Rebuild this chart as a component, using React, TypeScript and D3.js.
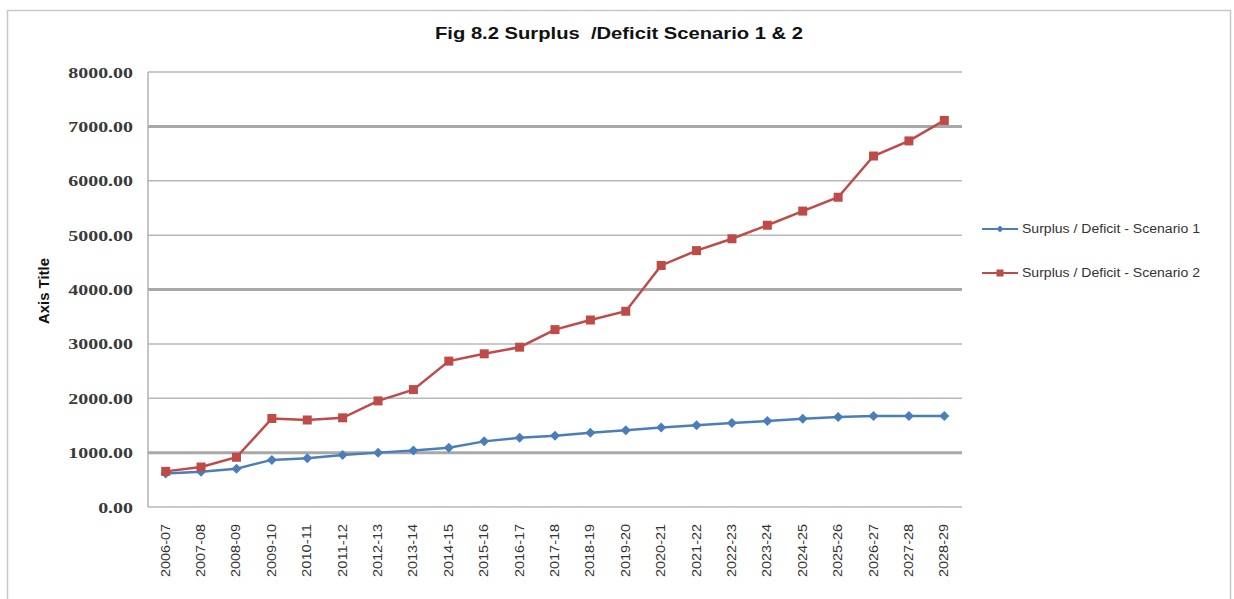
import React from "react";
import * as d3 from "d3";

const categories = [
  "2006-07", "2007-08", "2008-09", "2009-10", "2010-11", "2011-12", "2012-13",
  "2013-14", "2014-15", "2015-16", "2016-17", "2017-18", "2018-19", "2019-20",
  "2020-21", "2021-22", "2022-23", "2023-24", "2024-25", "2025-26", "2026-27",
  "2027-28", "2028-29",
];
const scenario1 = [
  615, 648, 705, 866, 896, 957, 1000, 1037, 1091, 1207, 1274, 1311, 1366, 1412,
  1461, 1503, 1545, 1582, 1624, 1655, 1673, 1673, 1673,
];
const scenario2 = [
  655, 735, 915, 1628, 1600, 1640, 1951, 2159, 2683, 2817, 2939, 3262, 3439, 3600,
  4442, 4715, 4933, 5182, 5442, 5697, 6455, 6733, 7109,
];
const yTicks = [0, 1000, 2000, 3000, 4000, 5000, 6000, 7000, 8000];
const seriesNames = ["Surplus / Deficit - Scenario 1", "Surplus / Deficit - Scenario 2"];
const title = "Fig 8.2 Surplus  /Deficit Scenario 1 & 2";
const yAxisTitle = "Axis Title";

const W = 1234;
const H = 599;
const plot = { left: 148, right: 962, top: 72, bottom: 507 };
const BLUE = "#4A7EBB";
const RED = "#BE4B48";

export default function App() {
  const x = d3
    .scalePoint<string>()
    .domain(categories)
    .range([plot.left, plot.right])
    .padding(0.5);
  const y = d3.scaleLinear().domain([0, 8000]).range([plot.bottom, plot.top]);
  const line = d3
    .line<number>()
    .x((_, i) => x(categories[i]) as number)
    .y((d) => y(d));

  const diamond = (cx: number, cy: number, r: number) =>
    `M${cx},${cy - r}L${cx + r},${cy}L${cx},${cy + r}L${cx - r},${cy}Z`;

  const font = "'Liberation Sans', Arial, sans-serif";

  return (
    <svg
      width={W}
      height={H}
      style={{ position: "absolute", left: 0, top: 0, background: "#fff" }}
      fontFamily={font}
    >
      <rect x={0} y={0} width={W} height={H} fill="#fff" />
      {/* outer border */}
      <path d={`M7.5,${H}V10.5H1230.5V${H}`} fill="none" stroke="#c8c8c8" strokeWidth={1.5} />

      <text
        x={619}
        y={39}
        textAnchor="middle"
        fontSize={17}
        fontWeight="bold"
        fill="#111"
        textLength={368}
        lengthAdjust="spacingAndGlyphs"
        style={{ whiteSpace: "pre" }}
      >
        {title}
      </text>

      {/* gridlines */}
      {yTicks.map((t) => {
        const heavy = t > 0 && (t / 1000) % 3 === 1;
        return (
          <line
            key={t}
            x1={plot.left}
            x2={plot.right}
            y1={y(t)}
            y2={y(t)}
            stroke={heavy ? "#a8a8a8" : "#b8b8b8"}
            strokeWidth={heavy ? 3 : 1.5}
          />
        );
      })}
      {/* axis line */}
      <line x1={plot.left} x2={plot.left} y1={plot.top} y2={plot.bottom} stroke="#b0b0b0" strokeWidth={1.5} />

      {/* y tick labels */}
      {yTicks.map((t) => (
        <text
          key={t}
          transform={`translate(133,${y(t) + 5.5}) scale(1.33,1)`}
          textAnchor="end"
          fontSize={15}
          fontWeight="bold"
          fill="#3a3a3a"
          fontFamily="'Liberation Serif', 'Times New Roman', serif"
        >
          {t.toFixed(2)}
        </text>
      ))}

      <text
        transform={`translate(49,291) rotate(-90)`}
        textAnchor="middle"
        fontSize={14}
        fontWeight="bold"
        fill="#111"
        textLength={66}
        lengthAdjust="spacingAndGlyphs"
      >
        {yAxisTitle}
      </text>

      {/* x labels */}
      {categories.map((c) => (
        <text
          key={c}
          transform={`translate(${(x(c) as number) + 4},524) rotate(-90)`}
          textAnchor="end"
          fontSize={12}
          fill="#333"
          textLength={53}
          lengthAdjust="spacingAndGlyphs"
        >
          {c}
        </text>
      ))}

      {/* series 1 */}
      <path d={line(scenario1) || ""} fill="none" stroke={BLUE} strokeWidth={2.5} />
      {scenario1.map((v, i) => (
        <path key={i} d={diamond(x(categories[i]) as number, y(v), 5)} fill={BLUE} />
      ))}
      {/* series 2 */}
      <path d={line(scenario2) || ""} fill="none" stroke={RED} strokeWidth={2.5} />
      {scenario2.map((v, i) => (
        <rect
          key={i}
          x={(x(categories[i]) as number) - 4.5}
          y={y(v) - 4.5}
          width={9}
          height={9}
          fill={RED}
        />
      ))}

      {/* legend */}
      {seriesNames.map((name, i) => {
        const ly = 229 + i * 44;
        const col = i === 0 ? BLUE : RED;
        return (
          <g key={name}>
            <line x1={982} x2={1018} y1={ly} y2={ly} stroke={col} strokeWidth={2} />
            {i === 0 ? (
              <path d={diamond(1000, ly, 3.5)} fill={col} />
            ) : (
              <rect x={996.5} y={ly - 3.5} width={7} height={7} fill={col} />
            )}
            <text
              x={1022}
              y={ly + 4}
              fontSize={12}
              fill="#333"
              textLength={178}
              lengthAdjust="spacingAndGlyphs"
            >
              {name}
            </text>
          </g>
        );
      })}
    </svg>
  );
}
